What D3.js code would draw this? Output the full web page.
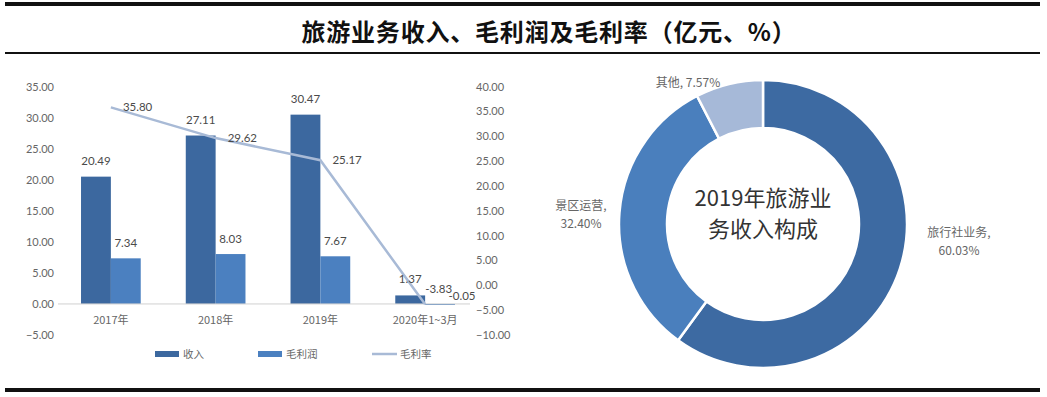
<!DOCTYPE html>
<html><head><meta charset="utf-8">
<script src="https://cdn.jsdelivr.net/npm/d3@7"></script>
<style>
body{margin:0;background:#fff;}
svg{display:block;font-family:"Noto Sans CJK SC","Noto Sans",sans-serif;}
</style></head>
<body><svg id="c" width="1047" height="397"></svg>
<script>
const categories = ["2017年","2018年","2019年","2020年1~3月"];
const revenue = [20.49, 27.11, 30.47, 1.37];
const grossProfit = [7.34, 8.03, 7.67, -0.05];
const grossMargin = [35.80, 29.62, 25.17, -3.83];
const leftTicks = [-5,0,5,10,15,20,25,30,35];
const rightTicks = [-10,-5,0,5,10,15,20,25,30,35,40];
const seriesNames = ["收入","毛利润","毛利率"];
const pieLabels = ["旅行社业务","景区运营","其他"];
const pieValues = [60.03, 32.40, 7.57];
const title = "旅游业务收入、毛利润及毛利率（亿元、%）";
const centerText = ["2019年旅游业","务收入构成"];

const C = {rev:"#3c689f", prof:"#4b80c0", line:"#a8bad6", text:"#666666"};
const pieColors = ["#3d6aa2","#4a7fbd","#a6b9d8"];

const svg = d3.select("#c");
// frame lines
svg.append("rect").attr("x",5).attr("y",2).attr("width",1035).attr("height",4).attr("fill","#111");
svg.append("rect").attr("x",5).attr("y",52).attr("width",1035).attr("height",2).attr("fill","#111");
svg.append("rect").attr("x",5).attr("y",388).attr("width",1035).attr("height",4).attr("fill","#111");
svg.append("text").attr("x",549).attr("y",41).attr("text-anchor","middle")
  .attr("font-size",24).attr("letter-spacing",0.8).attr("font-weight",700).attr("fill","#111").text(title);

// scales
const x = d3.scaleBand().domain(categories).range([58.5,477.5]).paddingInner(0.43).paddingOuter(0.215);
const yL = d3.scaleLinear().domain([-5,35]).range([335,86.5]);
const yR = d3.scaleLinear().domain([-10,40]).range([335,86.5]);
const bw = x.bandwidth()/2;
const numFont = "Lato, 'Noto Sans', sans-serif";

// left axis
const gL = svg.append("g").attr("transform","translate(54,0)")
  .call(d3.axisLeft(yL).tickValues(leftTicks).tickSize(0).tickPadding(0).tickFormat(d3.format(".2f")));
gL.select(".domain").remove();
gL.selectAll("text").attr("fill",C.text).attr("font-size",11).attr("font-family",numFont);
// right axis
const gR = svg.append("g").attr("transform","translate(476,0)")
  .call(d3.axisRight(yR).tickValues(rightTicks).tickSize(0).tickPadding(0).tickFormat(d3.format(".2f")));
gR.select(".domain").remove();
gR.selectAll("text").attr("fill",C.text).attr("font-size",11).attr("font-family",numFont);

// bars
svg.append("g").selectAll("rect").data(revenue).join("rect")
  .attr("x",(d,i)=>x(categories[i])).attr("width",bw)
  .attr("y",d=>yL(Math.max(0,d))).attr("height",d=>Math.abs(yL(d)-yL(0)))
  .attr("fill",C.rev);
svg.append("g").selectAll("rect").data(grossProfit).join("rect")
  .attr("x",(d,i)=>x(categories[i])+bw).attr("width",bw)
  .attr("y",d=>yL(Math.max(0,d))).attr("height",d=>Math.max(1,Math.abs(yL(d)-yL(0))))
  .attr("fill",C.prof);

// x axis line
svg.append("line").attr("x1",58).attr("x2",470).attr("y1",yL(0)).attr("y2",yL(0))
  .attr("stroke","#d0d0d0").attr("stroke-width",1);
svg.append("g").selectAll("text").data(categories).join("text")
  .attr("x",d=>x(d)+x.bandwidth()/2).attr("y",yL(0)+20).attr("text-anchor","middle")
  .attr("font-size",11).attr("fill",C.text).text(d=>d);

// line
const cx = i => x(categories[i])+x.bandwidth()/2;
const line = d3.line().x((d,i)=>cx(i)).y(d=>yR(d));
svg.append("path").datum(grossMargin).attr("d",line).attr("fill","none")
  .attr("stroke",C.line).attr("stroke-width",2.5);

// data labels
const lab = (g,data,xf,yf,anchor) => g.selectAll("text").data(data).join("text")
  .attr("x",xf).attr("y",yf).attr("text-anchor",anchor||"middle")
  .attr("font-size",11.5).attr("fill","#4a4a4a").attr("font-family",numFont).text(d=>d.toFixed(2));
lab(svg.append("g"),revenue,(d,i)=>x(categories[i])+bw/2,d=>yL(d)-12);
lab(svg.append("g"),grossProfit,(d,i)=>x(categories[i])+bw*1.5+(d<0?22:0),d=>d<0?yL(0)-4:yL(d)-11);
lab(svg.append("g"),grossMargin,(d,i)=>cx(i)+(i===3?0:12),(d,i)=>i===3?yR(d)-11:yR(d)+4,"start");

// legend
const lg = svg.append("g");
const legY = 354;
[[155,C.rev],[258,C.prof]].forEach((p,i)=>{
  lg.append("rect").attr("x",p[0]).attr("y",legY-3).attr("width",24).attr("height",6).attr("fill",p[1]);
  lg.append("text").attr("x",p[0]+28).attr("y",legY+4).attr("font-size",10.5).attr("fill",C.text).text(seriesNames[i]);
});
lg.append("line").attr("x1",372).attr("x2",397).attr("y1",legY).attr("y2",legY).attr("stroke",C.line).attr("stroke-width",2.5);
lg.append("text").attr("x",400).attr("y",legY+4).attr("font-size",10.5).attr("fill",C.text).text(seriesNames[2]);

// donut
const pcx = 763, pcy = 224;
const pie = d3.pie().sort(null).value(d=>d)(pieValues);
const arc = d3.arc().innerRadius(96).outerRadius(144);
const pg = svg.append("g").attr("transform",`translate(${pcx},${pcy})`);
pg.selectAll("path").data(pie).join("path").attr("d",arc)
  .attr("fill",(d,i)=>pieColors[i]).attr("stroke","#fff").attr("stroke-width",2.5);
pg.selectAll("text.c").data(centerText).join("text").attr("class","c")
  .attr("x",0).attr("y",(d,i)=>-18+i*31).attr("text-anchor","middle")
  .attr("font-size",22).attr("fill","#333").text(d=>d);

// donut labels
const pl = svg.append("g").attr("font-size",12).attr("fill",C.text).attr("text-anchor","middle");
const addLab = (lines,xx,yy)=>{
  const t = pl.append("text").attr("x",xx).attr("y",yy);
  lines.forEach((s,k)=>t.append("tspan").attr("x",xx).attr("dy",k?18:0).text(s));
};
addLab([pieLabels[0]+",", pieValues[0].toFixed(2)+"%"], 959, 237);
addLab([pieLabels[1]+",", pieValues[1].toFixed(2)+"%"], 581, 210);
addLab([pieLabels[2]+", "+pieValues[2].toFixed(2)+"%"], 688, 87);
</script></body></html>
